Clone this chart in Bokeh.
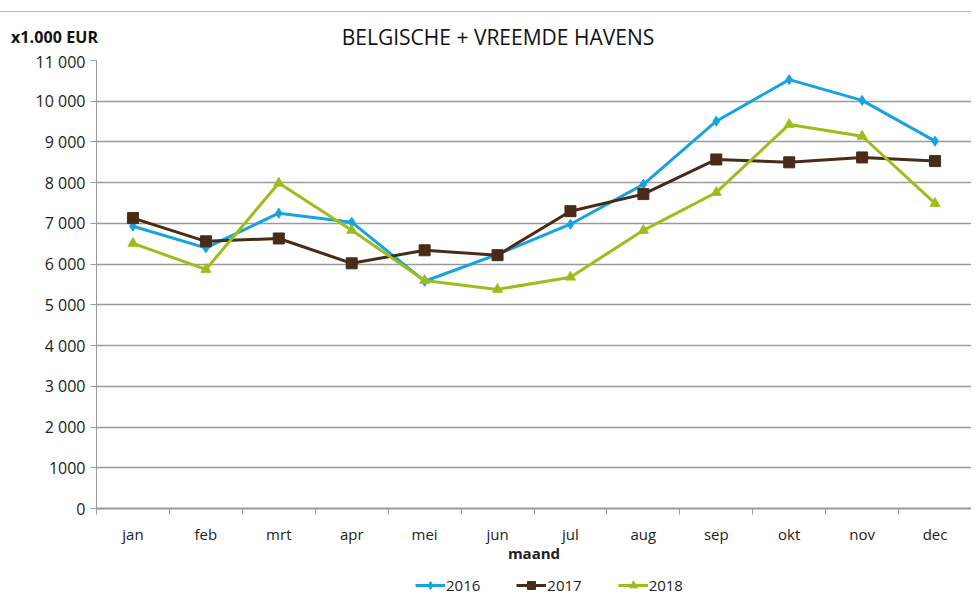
from bokeh.plotting import figure
from bokeh.models import (FixedTicker, Range1d, Legend, LegendItem, Div)
from bokeh.layouts import column
from bokeh.embed import file_html
from bokeh.resources import INLINE

months = ["jan", "feb", "mrt", "apr", "mei", "jun", "jul", "aug", "sep", "okt", "nov", "dec"]
v2016 = [6930, 6400, 7250, 7030, 5580, 6240, 6980, 7960, 9510, 10530, 10020, 9020]
v2017 = [7130, 6560, 6630, 6020, 6340, 6220, 7300, 7720, 8570, 8500, 8620, 8530]
v2018 = [6510, 5870, 7990, 6830, 5600, 5380, 5680, 6830, 7760, 9430, 9140, 7490]
series_names = ["2016", "2017", "2018"]
y_ticks = [0, 1000, 2000, 3000, 4000, 5000, 6000, 7000, 8000, 9000, 10000, 11000]
y_labels = ["0", "1000", "2 000", "3 000", "4 000", "5 000", "6 000", "7 000",
            "8 000", "9 000", "10 000", "11 000"]
title_text = "BELGISCHE + VREEMDE HAVENS"
unit_text = "x1.000 EUR"
x_title = "maand"

FONT = "Open Sans"
W, HH, MH, FH = 971, 50, 515, 32
GRAY = "#9a9a9a"
colors = ["#17a2e0", "#4a2a18", "#9cbd1c"]
markers = ["diamond", "square", "triangle"]
sizes = [10, 11, 10]
series = [v2016, v2017, v2018]
x = list(range(len(months)))

# ---------- header (title + unit) ----------
hdr_html = (
    f'<div style="position:relative;width:{W}px;height:{HH}px;font-family:\'{FONT}\';color:#111;">'
    f'<div style="position:absolute;left:0;width:{W}px;top:11px;border-top:1px solid #b4b4b4;"></div>'
    f'<div style="position:absolute;left:11px;top:27px;font-size:16px;font-weight:bold;'
    f'line-height:20px;letter-spacing:0.1px;white-space:nowrap;">{unit_text}</div>'
    f'<div style="position:absolute;left:0;width:996px;top:24px;font-size:21px;line-height:26px;'
    f'text-align:center;white-space:nowrap;">{title_text}</div>'
    f'</div>'
)
hdr = Div(text=hdr_html, width=W, height=HH, margin=0)

# ---------- main chart ----------
p = figure(width=W, height=MH, output_backend="svg", toolbar_location=None,
           x_range=Range1d(-0.5, len(months) - 0.5), y_range=Range1d(0, 11000),
           min_border_left=96, min_border_right=0, min_border_top=10, min_border_bottom=57)
p.outline_line_color = None

p.xaxis.ticker = FixedTicker(ticks=x, minor_ticks=[i - 0.5 for i in range(len(months) + 1)])
p.xaxis.major_label_overrides = {i: m for i, m in enumerate(months)}
p.xaxis.major_tick_line_color = None
p.xaxis.minor_tick_line_color = GRAY
p.xaxis.minor_tick_out = 6
p.xaxis.minor_tick_in = 0
p.xaxis.axis_line_color = GRAY
p.xaxis.axis_line_width = 2
p.xaxis.major_label_text_font = FONT
p.xaxis.major_label_text_font_size = "15px"
p.xaxis.major_label_text_color = "#222222"
p.xaxis.major_label_standoff = 9
p.xaxis.axis_label = x_title
p.xaxis.axis_label_text_font = FONT
p.xaxis.axis_label_text_font_style = "bold"
p.xaxis.axis_label_text_font_size = "15px"
p.xaxis.axis_label_text_color = "#222222"
p.xaxis.axis_label_standoff = -4

p.yaxis.ticker = FixedTicker(ticks=y_ticks)
p.yaxis.major_label_overrides = {t: l for t, l in zip(y_ticks, y_labels)}
p.yaxis.minor_tick_line_color = None
p.yaxis.major_tick_line_color = GRAY
p.yaxis.major_tick_out = 6
p.yaxis.major_tick_in = 0
p.yaxis.axis_line_color = GRAY
p.yaxis.major_label_text_font = FONT
p.yaxis.major_label_text_font_size = "16px"
p.yaxis.major_label_text_color = "#222222"
p.yaxis.major_label_standoff = 5

p.xgrid.grid_line_color = None
p.ygrid.grid_line_color = GRAY
p.ygrid.grid_line_width = 1.5

for vals, col, mk, sz in zip(series, colors, markers, sizes):
    p.line(x, vals, line_color=col, line_width=3)
    p.scatter(x, vals, marker=mk, size=sz, fill_color=col, line_color=col)

# ---------- footer with legend (same series, drawn outside its visible range) ----------
ft = figure(width=W, height=FH, output_backend="svg", toolbar_location=None,
            x_range=Range1d(-0.5, len(months) - 0.5), y_range=Range1d(-2, -1),
            min_border_left=96, min_border_right=0, min_border_top=0, min_border_bottom=0)
ft.axis.visible = False
ft.grid.visible = False
ft.outline_line_color = None
items = []
for name, vals, col, mk, sz in zip(series_names, series, colors, markers, sizes):
    lr = ft.line(x, vals, line_color=col, line_width=3)
    sr = ft.scatter(x, vals, marker=mk, size=sz - 2, fill_color=col, line_color=col)
    items.append(LegendItem(label=name, renderers=[lr, sr]))
legend = Legend(items=items, orientation="horizontal", location=(319, 2),
                label_text_font=FONT, label_text_font_size="15px",
                label_text_color="#222222", border_line_color=None,
                background_fill_alpha=0, spacing=36, glyph_width=30,
                label_standoff=1, padding=0, margin=0)
ft.add_layout(legend)

layout = column(hdr, p, ft, spacing=0)
open("out.html", "w").write(file_html(layout, INLINE))
